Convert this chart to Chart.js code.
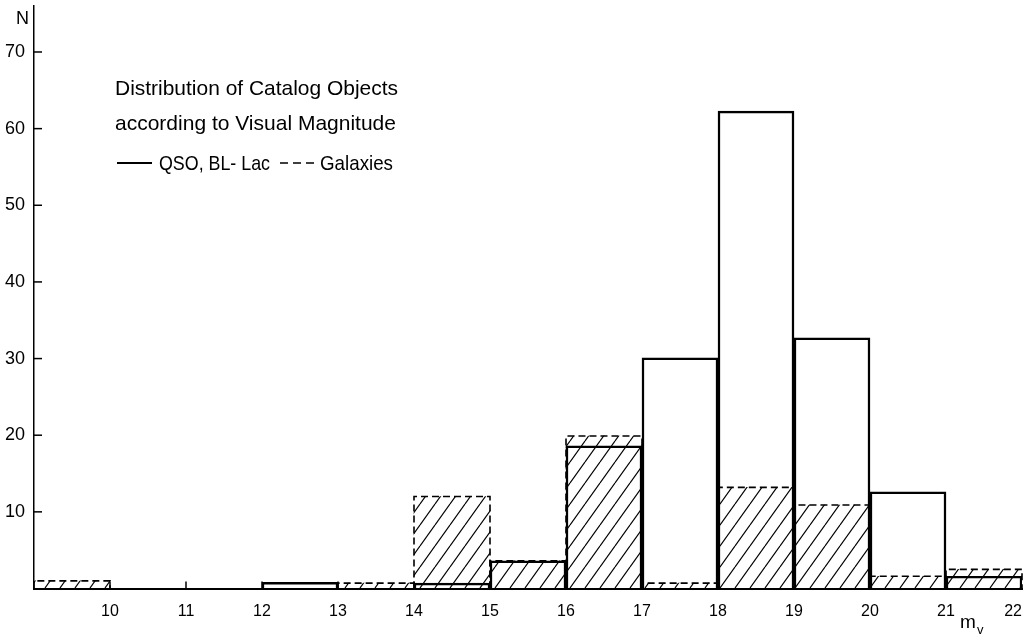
<!DOCTYPE html>
<html>
<head>
<meta charset="utf-8">
<script src="https://cdn.jsdelivr.net/npm/chart.js@4.4.1/dist/chart.umd.min.js"></script>
<style>
  html, body { margin: 0; padding: 0; background: #fff; }
</style>
</head>
<body>
<canvas id="chart" width="1030" height="635"></canvas>
<script>
// ===== DATA =====
const bins = ['9-10', '10-11', '11-12', '12-13', '13-14', '14-15', '15-16', '16-17', '17-18', '18-19', '19-20', '20-21', '21-22'];
const qso = [null, null, null, 0.8, null, 0.7, 3.6, 18.6, 30.1, 62.3, 32.7, 12.6, 1.6];
const galaxies = [1.0, null, null, null, 0.7, 12.0, 3.6, 19.9, 0.7, 13.2, 10.9, 1.6, 2.5];
const yTicks = [10, 20, 30, 40, 50, 60, 70];
const xTicks = [10, 11, 12, 13, 14, 15, 16, 17, 18, 19, 20, 21, 22];

const FONT = '"Liberation Sans", Arial, sans-serif';

// ===== HATCH PATTERN =====
function makeHatch() {
  const w = 15, h = 21;
  const c = document.createElement('canvas');
  c.width = w; c.height = h;
  const g = c.getContext('2d');
  g.strokeStyle = '#000';
  g.lineWidth = 1.2;
  [-w, 0, w].forEach(dx => {
    g.beginPath();
    g.moveTo(dx, h);
    g.lineTo(dx + w, 0);
    g.stroke();
  });
  return g.createPattern(c, 'repeat');
}

// ===== EXTRA DRAWING (dashed outlines, inward ticks, texts) =====
const decor = {
  id: 'decor',
  afterDatasetsDraw(chart) {
    const ctx = chart.ctx;
    const area = chart.chartArea;
    const ys = chart.scales.y;
    const xs = chart.scales.xl;

    // galaxies: dashed outline
    const meta = chart.getDatasetMeta(0);
    ctx.save();
    ctx.strokeStyle = '#000';
    ctx.lineWidth = 1.6;
    ctx.setLineDash([7, 4]);
    meta.data.forEach((bar, i) => {
      if (galaxies[i] == null) return;
      const p = bar.getProps(['x', 'y', 'base', 'width'], true);
      const l = p.x - p.width / 2, r = p.x + p.width / 2;
      ctx.beginPath();
      ctx.moveTo(l, p.base);
      ctx.lineTo(l, p.y);
      ctx.lineTo(r, p.y);
      ctx.lineTo(r, p.base);
      ctx.stroke();
    });
    ctx.restore();

    // inward ticks
    ctx.save();
    ctx.strokeStyle = '#000';
    ctx.lineWidth = 1.5;
    yTicks.forEach(v => {
      const py = ys.getPixelForValue(v);
      ctx.beginPath();
      ctx.moveTo(area.left, py);
      ctx.lineTo(area.left + 8, py);
      ctx.stroke();
    });
    xTicks.slice(0, -1).forEach(v => {
      const px = xs.getPixelForValue(v);
      ctx.beginPath();
      ctx.moveTo(px, area.bottom);
      ctx.lineTo(px, area.bottom - 7);
      ctx.stroke();
    });

    // texts
    ctx.fillStyle = '#000';
    ctx.textBaseline = 'alphabetic';
    ctx.textAlign = 'left';
    ctx.font = '21px ' + FONT;
    ctx.fillText('Distribution of Catalog Objects', 115, 95, 283);
    ctx.fillText('according to Visual Magnitude', 115, 130, 283);
    ctx.fillText('QSO, BL- Lac', 159, 170, 111);
    ctx.fillText('Galaxies', 320, 170, 73);

    ctx.lineWidth = 2;
    ctx.beginPath();
    ctx.moveTo(117, 163);
    ctx.lineTo(152, 163);
    ctx.stroke();
    ctx.setLineDash([8, 5]);
    ctx.lineWidth = 1.6;
    ctx.beginPath();
    ctx.moveTo(280, 163);
    ctx.lineTo(318, 163);
    ctx.stroke();
    ctx.setLineDash([]);

    ctx.font = '18px ' + FONT;
    ctx.fillText('N', 16, 24);
    ctx.font = '19px ' + FONT;
    ctx.fillText('m', 960, 628);
    ctx.font = '13px ' + FONT;
    ctx.fillText('v', 977, 634);
    ctx.restore();
  }
};

// ===== CHART =====
new Chart(document.getElementById('chart'), {
  type: 'bar',
  data: {
    labels: bins,
    datasets: [
      {
        label: 'Galaxies',
        data: galaxies,
        backgroundColor: makeHatch(),
        borderWidth: 0,
        grouped: false,
        barPercentage: 1,
        categoryPercentage: 1,
        order: 2
      },
      {
        label: 'QSO, BL- Lac',
        data: qso,
        backgroundColor: 'rgba(0,0,0,0)',
        borderColor: '#000',
        borderWidth: 1.8,
        borderSkipped: 'bottom',
        grouped: false,
        barPercentage: 1,
        categoryPercentage: 1,
        order: 1
      }
    ]
  },
  options: {
    responsive: false,
    devicePixelRatio: 1,
    animation: false,
    layout: { padding: { top: 6, right: 8, left: 0, bottom: 0 } },
    plugins: { legend: { display: false }, tooltip: { enabled: false } },
    scales: {
      x: { display: false },
      xl: {
        type: 'linear',
        position: 'bottom',
        offset: false,
        min: 9,
        max: 22,
        grid: { display: false, drawTicks: false, offset: false },
        border: { display: true, color: '#000', width: 2 },
        // 9 is kept as an empty label so that 'inner' alignment only moves the last one
        afterBuildTicks: s => { s.ticks = [9, ...xTicks].map(v => ({ value: v })); },
        afterFit: s => { s.height = 46.5; s.paddingLeft = 0; s.paddingRight = 0; },
        ticks: {
          color: '#000', font: { family: FONT, size: 16 }, padding: 13, maxRotation: 0,
          align: 'inner', autoSkip: false,
          callback: v => (v === 9 ? '' : String(v))
        }
      },
      y: {
        min: 0,
        max: 76,
        grid: { display: false, drawTicks: false },
        border: { display: true, color: '#000', width: 1.5 },
        afterBuildTicks: s => { s.ticks = yTicks.map(v => ({ value: v })); },
        afterFit: s => { s.width = 34; s.paddingTop = 0; s.paddingBottom = 0; },
        ticks: { color: '#000', font: { family: FONT, size: 18 }, padding: 9 }
      }
    }
  },
  plugins: [decor]
});
</script>
</body>
</html>
